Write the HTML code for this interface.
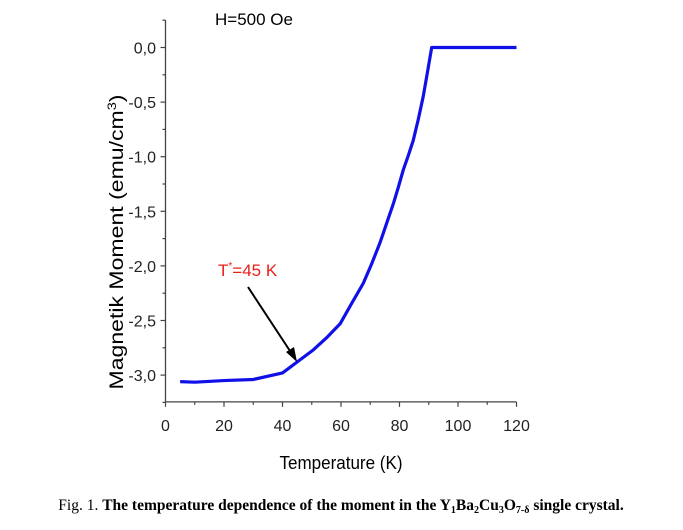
<!DOCTYPE html>
<html><head><meta charset="utf-8"><style>
body{margin:0;background:#fff;width:683px;height:525px;overflow:hidden}
svg text{font-family:"Liberation Sans",Arial,sans-serif}
</style></head><body>
<svg width="683" height="525">
<script>
const temps=[5,10,20,30,40,45,50.5,55,59.7,63.5,67.6,70.5,73.3,75.6,77.9,79.6,81.3,83,84.7,86.4,88.1,89.6,91,95,100,110,120];
const moments=[-3.06,-3.065,-3.05,-3.04,-2.98,-2.88,-2.77,-2.66,-2.53,-2.35,-2.16,-1.98,-1.79,-1.61,-1.43,-1.28,-1.12,-0.99,-0.85,-0.66,-0.45,-0.22,0,0,0,0,0];
const xTicks=[0,20,40,60,80,100,120];
const yTicks=[0,-0.5,-1,-1.5,-2,-2.5,-3];
</script>
<g id="g"></g>
<text x="215" y="25" font-size="17">H=500 Oe</text>
<text x="218" y="276" font-size="17" fill="#e8201a">T<tspan dy="-7" font-size="10">*</tspan><tspan dy="7">=45 K</tspan></text>
<line x1="248" y1="287" x2="292" y2="354" stroke="#000" stroke-width="2"/>
<polygon points="297,362 286,352 294,347" fill="#000"/>
<text x="341" y="469" font-size="18" text-anchor="middle" textLength="123" lengthAdjust="spacingAndGlyphs">Temperature (K)</text>
<text transform="translate(123,242) rotate(-90)" font-size="19" text-anchor="middle" textLength="295" lengthAdjust="spacingAndGlyphs">Magnetik Moment (emu/cm<tspan dy="-7" font-size="12">3</tspan><tspan dy="7">)</tspan></text>
<text x="341" y="510" font-size="15.5" text-anchor="middle" style="font-family:'Liberation Serif',serif">Fig. 1. <tspan font-weight="bold">The temperature dependence of the moment in the Y<tspan font-size="10" dy="3">1</tspan><tspan dy="-3">Ba</tspan><tspan font-size="10" dy="3">2</tspan><tspan dy="-3">Cu</tspan><tspan font-size="10" dy="3">3</tspan><tspan dy="-3">O</tspan><tspan font-size="10" dy="3">7-δ</tspan><tspan dy="-3"> single crystal.</tspan></tspan></text>
</svg>
<script>
const ns="http://www.w3.org/2000/svg";
const g=document.getElementById('g');
const X=v=>165.5+v*(351/120);
const Y=v=>47.5-v*109.2;
function mk(t,a){const e=document.createElementNS(ns,t);for(const k in a)e.setAttribute(k,a[k]);g.appendChild(e);return e;}
let e=mk('line',{x1:X(0),y1:20,x2:X(0),y2:Y(-3.245),stroke:'#444','stroke-width':1.3});


e=mk('line',{x1:X(0),y1:Y(-3.245),x2:X(120),y2:Y(-3.245),stroke:'#444','stroke-width':1.3});


for(let v=0;v<=120;v+=10){const big=xTicks.includes(v);
e=mk('line',{x1:X(v),y1:Y(-3.245),x2:X(v),y2:Y(-3.245)+(big?5:3),stroke:'#444','stroke-width':1.2});

}
xTicks.forEach(v=>{e=mk('text',{x:X(v),y:431,'font-size':16,'text-anchor':'middle',fill:'#222'});e.textContent=v;

});
for(let v=0.25;v>=-3.25;v-=0.25){const big=Math.abs(v*2-Math.round(v*2))<1e-6;
e=mk('line',{x1:X(0)-(big?5:3),y1:Y(v),x2:X(0),y2:Y(v),stroke:'#444','stroke-width':1.2});

}
yTicks.forEach(v=>{e=mk('text',{x:156,y:Y(v)+6,'font-size':16,'text-anchor':'end',fill:'#222'});e.textContent=v.toFixed(1).replace('.',',');

});
let d='';temps.forEach((t,i)=>{d+=(i?'L':'M')+X(t)+','+Y(moments[i]);});
e=mk('path',{d:d,fill:'none',stroke:'#1010e8','stroke-width':3.2,'stroke-linejoin':'round'});


</script>
</body></html>
